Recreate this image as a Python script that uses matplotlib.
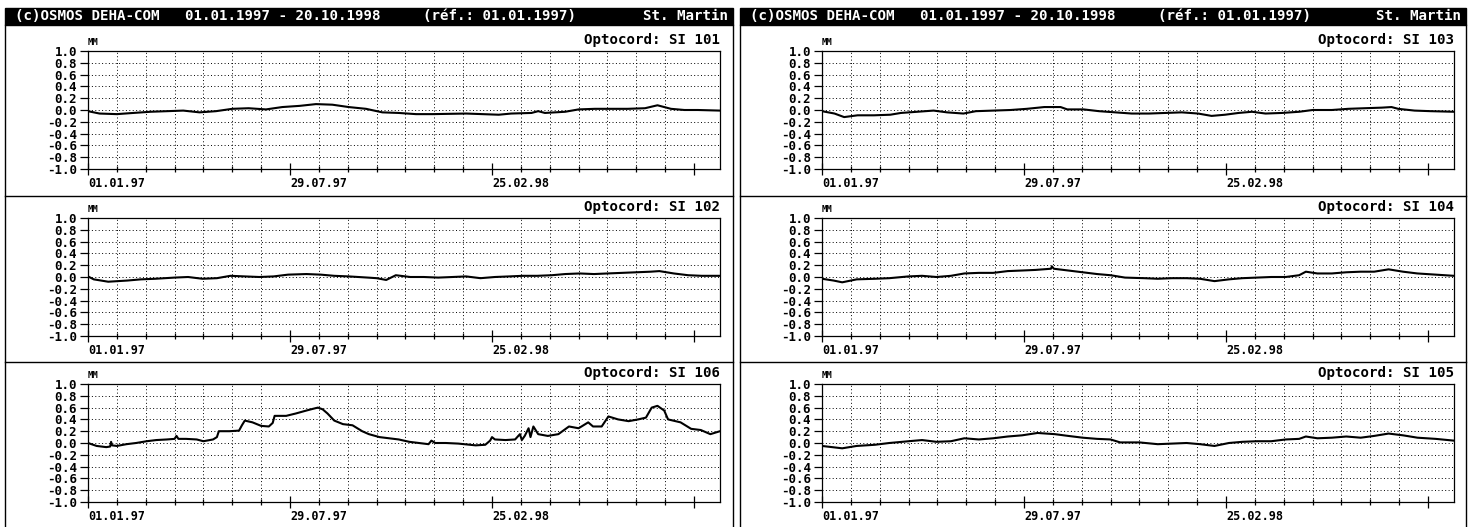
import numpy as np
import matplotlib; matplotlib.use("Agg")
import matplotlib.pyplot as plt
from matplotlib.lines import Line2D
from matplotlib.patches import Rectangle

plt.rcParams["font.family"] = ["DejaVu Sans Mono"]
plt.rcParams["font.weight"] = "bold"
plt.rcParams["axes.unicode_minus"] = False

W, H = 1474, 527

HEADER_LEFT = "(c)OSMOS DEHA-COM"
HEADER_RANGE = "01.01.1997 - 20.10.1998"
HEADER_REF = "(réf.: 01.01.1997)"
HEADER_SITE = "St. Martin"

X_END = 657                      # jours depuis 01.01.1997 -> 20.10.1998
X_LABEL_DAYS = [0, 210, 420, 630]
X_LABELS = ["01.01.97", "29.07.97", "25.02.98", ""]
Y_TICKS = [1.0, 0.8, 0.6, 0.4, 0.2, 0.0, -0.2, -0.4, -0.6, -0.8, -1.0]
UNIT = "MM"

# ---- séries (jour, mm) ----
SI101_DAYS = [0, 12, 30, 47, 65, 82, 99, 116, 133, 150, 167, 185, 202, 220, 237,
              254, 271, 289, 306, 323, 341, 358, 393, 410, 427, 440, 461, 468,
              475, 496, 510, 527, 544, 561, 579, 592, 606, 620, 634, 657]
SI101_MM = [-0.02, -0.06, -0.07, -0.05, -0.03, -0.02, -0.01, -0.04, -0.02, 0.02,
            0.03, 0.01, 0.05, 0.07, 0.10, 0.09, 0.05, 0.02, -0.04, -0.05, -0.07,
            -0.07, -0.06, -0.07, -0.08, -0.06, -0.05, -0.02, -0.05, -0.03, 0.01,
            0.02, 0.02, 0.02, 0.03, 0.08, 0.02, 0.00, 0.00, -0.01]

SI102_DAYS = [0, 6, 21, 31, 41, 55, 70, 90, 104, 119, 134, 148, 163, 178, 193,
              208, 227, 242, 256, 271, 291, 300, 310, 320, 335, 349, 364, 379,
              393, 408, 423, 438, 452, 467, 482, 496, 511, 526, 540, 555, 570,
              585, 594, 609, 624, 638, 657]
SI102_MM = [0.01, -0.04, -0.08, -0.07, -0.06, -0.04, -0.03, -0.01, 0.00, -0.03,
            -0.02, 0.02, 0.01, 0.00, 0.01, 0.04, 0.05, 0.04, 0.02, 0.01, -0.01,
            -0.02, -0.05, 0.03, 0.00, 0.00, -0.01, 0.00, 0.01, -0.02, 0.00, 0.01,
            0.02, 0.02, 0.03, 0.05, 0.06, 0.05, 0.06, 0.07, 0.08, 0.09, 0.10,
            0.06, 0.03, 0.02, 0.02]

SI106_DAYS = [0, 9, 19, 23, 24, 25, 30, 40, 50, 61, 71, 82, 90, 92, 94, 102, 113,
              120, 130, 134, 136, 147, 157, 160, 163, 171, 180, 188, 192, 194,
              206, 216, 227, 234, 239, 244, 249, 256, 265, 275, 285, 292, 303,
              313, 323, 334, 344, 354, 357, 361, 372, 385, 403, 413, 418, 420,
              423, 434, 444, 449, 451, 454, 458, 460, 463, 468, 478, 489, 500,
              510, 520, 525, 534, 541, 551, 562, 572, 580, 586, 592, 599, 603,
              616, 627, 637, 647, 657]
SI106_MM = [0.00, -0.05, -0.07, -0.06, 0.02, -0.04, -0.05, -0.02, 0.00, 0.03,
            0.05, 0.06, 0.07, 0.12, 0.07, 0.07, 0.06, 0.03, 0.06, 0.10, 0.20,
            0.20, 0.21, 0.30, 0.38, 0.35, 0.29, 0.28, 0.34, 0.46, 0.46, 0.50,
            0.55, 0.58, 0.60, 0.57, 0.50, 0.38, 0.32, 0.30, 0.20, 0.15, 0.10,
            0.08, 0.06, 0.02, 0.00, -0.02, 0.04, 0.00, 0.00, -0.01, -0.04,
            -0.03, 0.04, 0.10, 0.06, 0.05, 0.06, 0.15, 0.05, 0.12, 0.25, 0.10,
            0.28, 0.15, 0.12, 0.15, 0.28, 0.25, 0.35, 0.28, 0.28, 0.45, 0.40,
            0.37, 0.40, 0.43, 0.60, 0.63, 0.55, 0.40, 0.35, 0.24, 0.22, 0.15,
            0.20]

SI103_DAYS = [0, 13, 23, 37, 54, 71, 82, 99, 116, 130, 147, 160, 178, 196, 213,
              231, 248, 255, 272, 288, 305, 322, 340, 357, 374, 391, 405, 419,
              433, 447, 461, 478, 496, 510, 530, 547, 564, 582, 592, 599, 616,
              633, 657]
SI103_MM = [-0.02, -0.06, -0.12, -0.09, -0.09, -0.08, -0.05, -0.03, -0.01, -0.04,
            -0.06, -0.02, -0.01, 0.00, 0.02, 0.05, 0.05, 0.01, 0.01, -0.02,
            -0.04, -0.06, -0.06, -0.05, -0.04, -0.06, -0.10, -0.08, -0.05,
            -0.03, -0.06, -0.05, -0.03, 0.00, 0.00, 0.02, 0.03, 0.04, 0.05,
            0.02, -0.01, -0.02, -0.03]

SI104_DAYS = [0, 12, 21, 36, 55, 70, 90, 104, 119, 134, 148, 163, 178, 193, 208,
              222, 238, 239, 241, 251, 271, 286, 300, 315, 335, 349, 364, 379,
              393, 408, 423, 437, 452, 467, 482, 496, 503, 515, 530, 545, 560,
              574, 589, 604, 619, 638, 657]
SI104_MM = [-0.03, -0.06, -0.09, -0.04, -0.03, -0.02, 0.01, 0.02, 0.00, 0.02,
            0.06, 0.07, 0.07, 0.10, 0.11, 0.12, 0.14, 0.18, 0.14, 0.12, 0.08,
            0.05, 0.03, -0.01, -0.02, -0.03, -0.02, -0.02, -0.03, -0.07, -0.04,
            -0.02, -0.01, 0.00, 0.00, 0.03, 0.09, 0.06, 0.06, 0.08, 0.09, 0.09,
            0.13, 0.09, 0.06, 0.04, 0.02]

SI105_DAYS = [0, 21, 36, 55, 70, 90, 104, 119, 134, 148, 163, 178, 193, 208, 224,
              242, 256, 271, 286, 300, 310, 330, 349, 364, 379, 393, 408, 423,
              437, 452, 467, 482, 496, 503, 515, 530, 545, 560, 574, 589, 604,
              619, 638, 657]
SI105_MM = [-0.05, -0.09, -0.05, -0.03, 0.00, 0.03, 0.05, 0.02, 0.03, 0.08, 0.06,
            0.08, 0.11, 0.13, 0.17, 0.15, 0.12, 0.09, 0.07, 0.06, 0.01, 0.01,
            -0.02, -0.01, 0.00, -0.02, -0.05, 0.00, 0.02, 0.03, 0.03, 0.06, 0.07,
            0.11, 0.08, 0.09, 0.11, 0.09, 0.12, 0.16, 0.13, 0.09, 0.07, 0.04]

LEFT = [("Optocord: SI 101", SI101_DAYS, SI101_MM),
        ("Optocord: SI 102", SI102_DAYS, SI102_MM),
        ("Optocord: SI 106", SI106_DAYS, SI106_MM)]
RIGHT = [("Optocord: SI 103", SI103_DAYS, SI103_MM),
         ("Optocord: SI 104", SI104_DAYS, SI104_MM),
         ("Optocord: SI 105", SI105_DAYS, SI105_MM)]


def fx(x): return x / W
def fy(y): return 1 - y / H


def hline(fig, x0, x1, y, lw=1.0):
    fig.add_artist(Line2D([fx(x0), fx(x1)], [fy(y), fy(y)], color="black",
                          lw=lw, transform=fig.transFigure))


def vline(fig, x, y0, y1, lw=1.0):
    fig.add_artist(Line2D([fx(x), fx(x)], [fy(y0), fy(y1)], color="black",
                          lw=lw, transform=fig.transFigure))


def draw_panel(fig, x0, x1, ax_left, series):
    # cadre + bandeau noir
    fig.add_artist(Rectangle((fx(x0), fy(25)), fx(x1) - fx(x0), fy(8) - fy(25),
                             facecolor="black", edgecolor="black",
                             transform=fig.transFigure))
    ty = fy(16.5)
    hdr = dict(color="white", fontsize=10.2, va="center")
    fig.text(fx(x0 + 10), ty, HEADER_LEFT, **hdr)
    fig.text(fx(x0 + 180), ty, HEADER_RANGE, **hdr)
    fig.text(fx(x0 + 418), ty, HEADER_REF, **hdr)
    fig.text(fx(x1 - 5), ty, HEADER_SITE, ha="right", **hdr)
    vline(fig, x0, 25, H)
    vline(fig, x1, 25, H)
    hline(fig, x0, x1, 196)
    hline(fig, x0, x1, 362)

    tops = [51, 218, 384]
    for (title, days, mm), top in zip(series, tops):
        ax = fig.add_axes([fx(ax_left), fy(top + 118), 632 / W, 118 / H])
        ax.plot(days, mm, color="black", lw=1.5)
        ax.set_xlim(0, X_END)
        ax.set_ylim(-1.0, 1.0)

        ax.set_xticks(X_LABEL_DAYS)
        ax.set_xticklabels(X_LABELS, fontsize=8.5)
        for lab in ax.get_xticklabels():
            lab.set_ha("left")
        ax.set_xticks(np.arange(0, X_END, 30), minor=True)
        ax.set_yticks(Y_TICKS)
        ax.set_yticklabels([f"{v:.1f}" for v in Y_TICKS], fontsize=9)
        ax.tick_params(axis="x", which="major", direction="inout", length=9,
                       width=0.9, pad=1)
        ax.tick_params(axis="x", which="minor", direction="inout", length=5,
                       width=0.9)
        ax.tick_params(axis="y", direction="out", length=6, width=0.9, pad=2)

        ax.grid(axis="x", which="minor", color="black", ls=(0, (1, 2.5)), lw=0.7)
        ax.grid(axis="y", which="major", color="black", ls=(0, (1, 2.5)), lw=0.7)
        for sp in ax.spines.values():
            sp.set_linewidth(0.9)

        ax.text(1.0, 1.03, title, transform=ax.transAxes, ha="right",
                va="bottom", fontsize=10.2)
        ax.text(0.0, 1.03, UNIT, transform=ax.transAxes, ha="left",
                va="bottom", fontsize=6.5)


fig = plt.figure(figsize=(W / 100, H / 100), dpi=100)
draw_panel(fig, 5, 733, 88, LEFT)
draw_panel(fig, 740, 1466, 822, RIGHT)
fig.savefig("out.png", dpi=100)
